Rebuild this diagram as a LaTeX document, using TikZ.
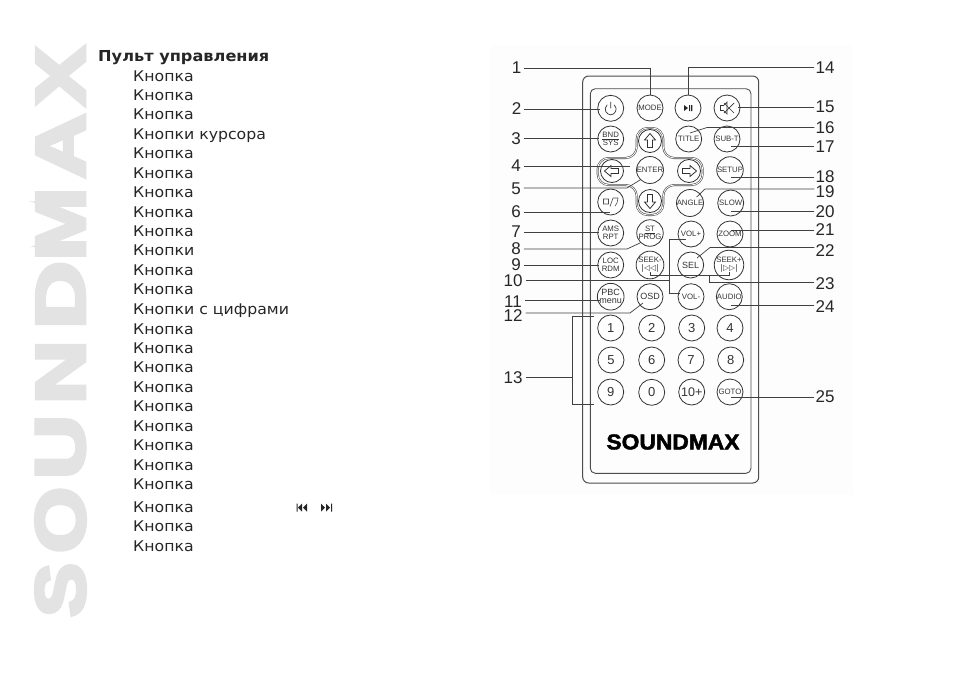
\documentclass[tikz,border=0pt]{standalone}
\usepackage{fontspec}
\setmainfont[FakeStretch=1.07]{DejaVu Sans}
\newfontfamily\labelfont{Liberation Sans}
\newfontfamily\heavyfont[BoldFeatures={FakeBold=2}]{Liberation Sans}
\newfontfamily\markfont[BoldFeatures={FakeBold=5}]{Liberation Sans}

\begin{document}
\begin{tikzpicture}[
  x=1pt,
  y=-1pt,
  listline/.style={
    anchor=west,
    inner sep=0pt,
    text height=13pt,
    text depth=3pt,
    font=\fontsize{14.7pt}{15pt}\selectfont,
    text=black!85
  },
  numlabel/.style={
    inner sep=0pt,
    font=\labelfont\fontsize{17pt}{17pt}\selectfont,
    text=black!85
  },
  btn/.style={
    circle,
    draw=black!80,
    fill=white,
    line width=0.8pt,
    minimum size=26pt,
    inner sep=0pt,
    align=center,
    font=\labelfont\fontsize{7.8pt}{7.8pt}\selectfont,
    text=black!80
  },
  digit/.style={
    btn,
    font=\labelfont\fontsize{13pt}{13pt}\selectfont
  },
  leader/.style={
    black!75,
    line width=0.7pt
  },
  markletter/.style={
    rotate=90,
    inner sep=0pt,
    text=black!11
  }
]
\useasboundingbox (0,0) rectangle (954,673);
\fill[white] (0,0) rectangle (954,673);
\fill[black!0.8] (490,45) rectangle (853,495);

% watermark
\node[markletter] (markx) at (60.5,76) {\resizebox{59pt}{48pt}{\markfont\bfseries X}};
\node[markletter] (marka) at (60.5,146) {\resizebox{65pt}{48pt}{\markfont\bfseries A}};
\node[markletter] (markm) at (60.5,224) {\resizebox{73pt}{48pt}{\markfont\bfseries M}};
\node[markletter] (markd) at (60.5,295) {\resizebox{68pt}{48pt}{\markfont\bfseries D}};
\node[markletter] (markn) at (60.5,372) {\resizebox{64pt}{48pt}{\markfont\bfseries N}};
\node[markletter] (marku) at (60.5,447) {\resizebox{64pt}{48pt}{\markfont\bfseries U}};
\node[markletter] (marko) at (60.5,520) {\resizebox{66pt}{49pt}{\markfont\bfseries O}};
\node[markletter] (marks) at (60.5,590) {\resizebox{54pt}{49pt}{\markfont\bfseries S}};

% list
\node[listline, font=\bfseries\fontsize{15.1pt}{15pt}\selectfont] (title) at (98,56) {Пульт управления};
\node[listline] (t1) at (133,76) {Кнопка};
\node[listline] (t2) at (133,95) {Кнопка};
\node[listline] (t3) at (133,114.5) {Кнопка};
\node[listline] (t4) at (133,134) {Кнопки курсора};
\node[listline] (t5) at (133,153.5) {Кнопка};
\node[listline] (t6) at (133,173) {Кнопка};
\node[listline] (t7) at (133,192.5) {Кнопка};
\node[listline] (t8) at (133,212) {Кнопка};
\node[listline] (t9) at (133,231) {Кнопка};
\node[listline] (t10) at (133,250.5) {Кнопки};
\node[listline] (t11) at (133,270) {Кнопка};
\node[listline] (t12) at (133,289.5) {Кнопка};
\node[listline] (t13) at (133,309.5) {Кнопки с цифрами};
\node[listline] (t14) at (133,329) {Кнопка};
\node[listline] (t15) at (133,348) {Кнопка};
\node[listline] (t16) at (133,367.5) {Кнопка};
\node[listline] (t17) at (133,387) {Кнопка};
\node[listline] (t18) at (133,406.5) {Кнопка};
\node[listline] (t19) at (133,426) {Кнопка};
\node[listline] (t20) at (133,445.5) {Кнопка};
\node[listline] (t21) at (133,465) {Кнопка};
\node[listline] (t22) at (133,484.5) {Кнопка};
\node[listline] (t23) at (133,507) {Кнопка};
\node[listline] (t24) at (133,526.5) {Кнопка};
\node[listline] (t25) at (133,546.5) {Кнопка};
\fill[black!85] (296.7,503.5) rectangle (297.7,511.5) (302,503.5) -- (302,511.5) -- (298,507.5) -- cycle
  (307,503.5) -- (307,511.5) -- (303,507.5) -- cycle;
\fill[black!85] (331,503.5) rectangle (332,511.5) (326,503.5) -- (326,511.5) -- (330,507.5) -- cycle
  (321,503.5) -- (321,511.5) -- (325,507.5) -- cycle;

% remote body
\draw[black!70, line width=1pt, rounded corners=6pt] (582.7,76) rectangle (758.7,483);
\draw[black!70, line width=0.9pt, rounded corners=5pt] (590.3,88.7) rectangle (751,473.3);
\draw[black!70, line width=0.6pt, double=white, double distance=0.8pt, rounded corners=11pt]
  (636.7,158) -- (636.7,128) -- (663.3,128) -- (663.3,158) -- (702.7,158) -- (702.7,185)
  -- (663.3,185) -- (663.3,215) -- (636.7,215) -- (636.7,185) -- (597.7,185) -- (597.7,158) -- cycle;

% buttons
\node[btn] (power) at (610.7,108.3) {};
\node[btn] (mode) at (650,108) {MODE};
\node[btn] (play) at (688,108) {};
\node[btn] (mute) at (727,108) {};
\node[btn] (bnd) at (610.7,139) {\underline{BND}\\SYS};
\node[btn, minimum size=23pt] (up) at (650,141) {};
\node[btn] (titlebtn) at (688.7,139) {TITLE};
\node[btn] (subt) at (727,139) {SUB-T};
\node[btn, minimum size=23pt] (left) at (612,171) {};
\node[btn] (enter) at (650,170) {ENTER};
\node[btn, minimum size=23pt] (right) at (689,171) {};
\node[btn] (setup) at (730,170) {SETUP};
\node[btn] (undo) at (610.7,202) {};
\node[btn, minimum size=23pt] (down) at (650,201) {};
\node[btn] (angle) at (690,203) {ANGLE};
\node[btn] (slow) at (730.7,203) {SLOW};
\node[btn] (ams) at (610.7,233) {AMS\\RPT};
\node[btn] (st) at (650,233) {\underline{ST}\\PROG};
\node[btn] (volp) at (691,234) {VOL+};
\node[btn] (zoom) at (730,234) {ZOOM};
\node[btn] (loc) at (610.7,265) {LOC\\RDM};
\node[btn] (seekm) at (650,265) {SEEK-\\{\fontspec{DejaVu Sans}|◁◁|}};
\node[btn, font=\labelfont\fontsize{9pt}{9pt}\selectfont] (sel) at (690.7,265) {SEL};
\node[btn] (seekp) at (729,265) {SEEK+\\{\fontspec{DejaVu Sans}|▷▷|}};
\node[btn, font=\labelfont\fontsize{9pt}{8pt}\selectfont] (pbc) at (610.7,296.7) {PBC\\menu};
\node[btn, font=\labelfont\fontsize{9pt}{9pt}\selectfont] (osd) at (650,296.7) {OSD};
\node[btn] (volm) at (691,296.7) {VOL-};
\node[btn] (audio) at (729.3,296.7) {AUDIO};
\node[digit] (d1) at (610.7,328) {1};
\node[digit] (d2) at (651.7,328) {2};
\node[digit] (d3) at (691.7,328) {3};
\node[digit] (d4) at (730,328) {4};
\node[digit] (d5) at (611,360) {5};
\node[digit] (d6) at (651.7,360) {6};
\node[digit] (d7) at (691,360) {7};
\node[digit] (d8) at (730.7,360) {8};
\node[digit] (d9) at (610.7,392) {9};
\node[digit] (d0) at (651.7,392.3) {0};
\node[digit, font=\labelfont\fontsize{12.5pt}{12.5pt}\selectfont] (d10) at (691.7,392) {10+};
\node[btn] (goto) at (730,392) {GOTO};
\node[inner sep=0pt] (brand) at (673,442)
  {\resizebox{133pt}{15pt}{\heavyfont\bfseries SOUNDMAX}};

% icons
\draw[black!80, line width=0.7pt, shift={(power)}] (-3.5,-3.5) .. controls (-8,1) and (-4,6.5) .. (0,6.5) .. controls (4,6.5) and (8,1) .. (3.5,-3.5) (0,-6.5) -- (0,0);
\fill[black!85] (684,105) -- (684,111) -- (688,108) -- cycle (689,105) rectangle (690.2,111) (691.2,105) rectangle (692.4,111);
\draw[black!80, line width=0.7pt] (720.5,105.5) -- (723.5,105.5) -- (727,102) -- (727,114) -- (723.5,110.5) -- (720.5,110.5) -- cycle;
\draw[black!80, line width=0.7pt] (724,103) -- (734,113) (724,113) -- (734,103);
\draw[black!80, line width=0.8pt, shift={(up)}] (0,-7.5) -- (5.5,-1) -- (2.5,-1) -- (2.5,6.5) -- (-2.5,6.5) -- (-2.5,-1) -- (-5.5,-1) -- cycle;
\draw[black!80, line width=0.8pt, shift={(down)}, rotate=180] (0,-7.5) -- (5.5,-1) -- (2.5,-1) -- (2.5,6.5) -- (-2.5,6.5) -- (-2.5,-1) -- (-5.5,-1) -- cycle;
\draw[black!80, line width=0.8pt, shift={(left)}, rotate=90] (0,-7.5) -- (5.5,-1) -- (2.5,-1) -- (2.5,6.5) -- (-2.5,6.5) -- (-2.5,-1) -- (-5.5,-1) -- cycle;
\draw[black!80, line width=0.8pt, shift={(right)}, rotate=-90] (0,-7.5) -- (5.5,-1) -- (2.5,-1) -- (2.5,6.5) -- (-2.5,6.5) -- (-2.5,-1) -- (-5.5,-1) -- cycle;
\draw[black!70, line width=0.6pt] (603.5,199) rectangle (608.5,204) (610,206.5) -- (613,198) (613,198) -- (618,198) -- (617,203) -- (615,206);

% labels
\node[numlabel] (n1) at (516.5,68) {1};
\node[numlabel] (n2) at (516.5,109) {2};
\node[numlabel] (n3) at (516,138.5) {3};
\node[numlabel] (n4) at (516,166) {4};
\node[numlabel] (n5) at (516,189) {5};
\node[numlabel] (n6) at (516,212) {6};
\node[numlabel] (n7) at (516,232) {7};
\node[numlabel] (n8) at (516,249) {8};
\node[numlabel] (n9) at (516,265) {9};
\node[numlabel] (n10) at (513,281) {10};
\node[numlabel] (n11) at (513,301.5) {11};
\node[numlabel] (n12) at (513,316) {12};
\node[numlabel] (n13) at (513,378) {13};
\node[numlabel] (n14) at (825,67.5) {14};
\node[numlabel] (n15) at (825,107) {15};
\node[numlabel] (n16) at (825,127.5) {16};
\node[numlabel] (n17) at (825,147) {17};
\node[numlabel] (n18) at (825,177) {18};
\node[numlabel] (n19) at (825,192) {19};
\node[numlabel] (n20) at (825,212) {20};
\node[numlabel] (n21) at (825,230) {21};
\node[numlabel] (n22) at (825,250.5) {22};
\node[numlabel] (n23) at (825,283.5) {23};
\node[numlabel] (n24) at (825,306.5) {24};
\node[numlabel] (n25) at (825,397) {25};

% free ends of the leaders
\coordinate (e2) at (600,109);
\coordinate (e3) at (599,138.5);
\coordinate (e4) at (630,166);
\coordinate (e5) at (640,180);
\coordinate (e6) at (610,212);
\coordinate (e7) at (599,232);
\coordinate (e8) at (640,243);
\coordinate (e9) at (599,265);
\coordinate (e11) at (600,300.5);
\coordinate (e12) at (643,303);
\coordinate (e15) at (738,107);
\coordinate (e16) at (690,133);
\coordinate (e17) at (731,146);
\coordinate (e18) at (731,177);
\coordinate (e19) at (696.7,197);
\coordinate (e20) at (731,211);
\coordinate (e21) at (731,230);
\coordinate (e22) at (697,258);
\coordinate (e24) at (731,305);
\coordinate (e25) at (731,397);
\coordinate (b13a) at (594,316);
\coordinate (b13b) at (594,404.3);
\coordinate (e23a) at (650,272);
\coordinate (e23b) at (729,272);
\coordinate (e10a) at (685.7,239);
\coordinate (e10b) at (680,293);

% leaders
\draw[leader] (n1.east) ++(3,0) -| (mode.north);
\draw[leader] (n2.east) ++(3,0) -- (e2);
\draw[leader] (n3.east) ++(3,0) -- (e3);
\draw[leader] (n4.east) ++(3,0) -- (e4);
\draw[leader] (n5.east) ++(3,-1) -- (627,188) -- (e5);
\draw[leader] (n6.east) ++(3,0) -- (e6);
\draw[leader] (n7.east) ++(3,0) -- (e7);
\draw[leader] (n8.east) ++(3,0) -- (627,249) -- (e8);
\draw[leader] (n9.east) ++(3,0) -- (e9);
\draw[leader] (n10.east) ++(3,-1) -- (669,280);
\draw[leader] (n11.east) ++(3,-1) -- (e11);
\draw[leader] (n12.east) ++(3,-3) -- (630,313) -- (e12);
\draw[leader] (n13.east) ++(3,-1) -- (572,377);
\draw[leader] (b13a) -- (572,316) -- (572,404.3) -- (b13b);
\draw[leader] (e10a) -- (669,239) -- (669,293) -- (e10b);
\draw[leader] (n14.west) ++(-1,0) -| (play.north);
\draw[leader] (n15.west) ++(-1,0) -- (e15);
\draw[leader] (n16.west) ++(-1,0) -- (707,127.5) -- (e16);
\draw[leader] (n17.west) ++(-1,-1) -- (e17);
\draw[leader] (n18.west) ++(-1,0) -- (e18);
\draw[leader] (n19.west) ++(-1,-3) -- (705,189) -- (e19);
\draw[leader] (n20.west) ++(-1,-1) -- (e20);
\draw[leader] (n21.west) ++(-1,0) -- (e21);
\draw[leader] (n22.west) ++(-1,-3) -- (710,247.5) -- (e22);
\draw[leader] (n23.west) ++(-1,-1.5) -- (709,282) -- (709,275.5);
\draw[leader] (e23a) -- (650,275.5) -- (729,275.5) -- (e23b);
\draw[leader] (n24.west) ++(-1,-1.5) -- (e24);
\draw[leader] (n25.west) ++(-1,0) -- (e25);
\end{tikzpicture}
\end{document}
